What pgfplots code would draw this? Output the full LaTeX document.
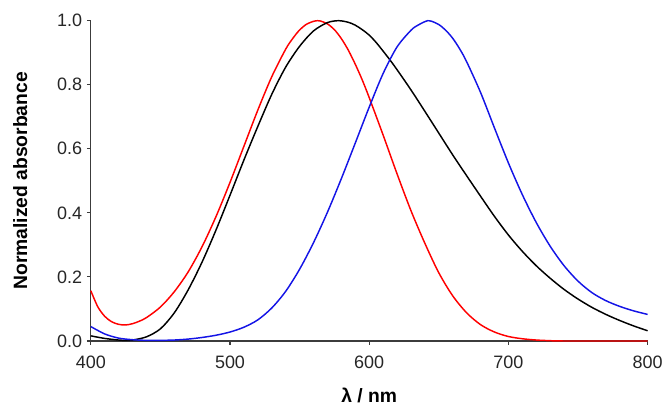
\documentclass[border=0pt]{standalone}
\usepackage{pgfplots}
\pgfplotsset{compat=1.18}
\usepackage{pgfplotstable}
\usepackage{fontspec}
\setmainfont{Liberation Sans}

\definecolor{specred}{RGB}{255,0,0}
\definecolor{specblue}{RGB}{20,20,230}
\definecolor{axisgray}{RGB}{60,60,60}

% red spectrum
\pgfplotstableread{
lam A
400 0.157
405 0.107
410 0.077
415 0.060
420 0.052
425 0.050
430 0.054
435 0.062
440 0.073
450 0.106
460 0.154
470 0.216
480 0.295
490 0.389
500 0.495
510 0.608
520 0.721
530 0.825
540 0.911
545 0.944
550 0.971
555 0.989
560 0.998
563 1.000
565 0.999
570 0.990
575 0.972
580 0.944
585 0.908
590 0.864
595 0.815
600 0.760
610 0.643
620 0.522
630 0.407
640 0.305
650 0.213
660 0.141
670 0.088
680 0.051
690 0.028
700 0.014
710 0.007
720 0.003
730 0.001
740 0.000
800 0.000
}\redtab

% black spectrum
\pgfplotstableread{
lam A
400 0.016
410 0.008
420 0.003
425 0.002
430 0.003
440 0.013
450 0.038
460 0.088
470 0.160
480 0.247
490 0.347
500 0.455
510 0.565
520 0.670
530 0.770
540 0.855
550 0.920
560 0.968
570 0.994
578 1.000
585 0.995
590 0.986
595 0.972
600 0.955
605 0.932
610 0.905
615 0.877
620 0.847
630 0.784
640 0.717
650 0.649
660 0.581
670 0.516
680 0.452
690 0.389
700 0.331
710 0.280
720 0.235
730 0.196
740 0.161
750 0.131
760 0.105
770 0.083
780 0.064
790 0.047
800 0.032
}\blacktab

% blue spectrum
\pgfplotstableread{
lam A
400 0.045
410 0.022
420 0.009
430 0.004
440 0.002
450 0.002
460 0.003
470 0.006
480 0.011
490 0.018
500 0.028
510 0.043
520 0.066
530 0.103
540 0.155
550 0.224
560 0.307
570 0.402
580 0.507
590 0.618
600 0.730
610 0.835
620 0.918
630 0.970
635 0.986
640 0.997
642 1.000
645 0.998
650 0.988
655 0.970
660 0.945
665 0.912
670 0.872
680 0.776
690 0.665
700 0.556
710 0.457
720 0.370
730 0.296
740 0.235
750 0.187
760 0.151
770 0.126
780 0.108
790 0.094
800 0.083
}\bluetab

\begin{document}
\begin{tikzpicture}
\begin{axis}[
  scale only axis,
  width=418.5pt, height=240.75pt,
  xmin=400, xmax=800, ymin=0, ymax=1,
  axis x line=bottom, axis y line=left,
  axis line style={-, axisgray, line width=1pt},
  tick align=outside,
  major tick length=3pt,
  tick style={axisgray, line width=0.8pt},
  xtick={400,500,600,700,800},
  ytick={0,0.2,0.4,0.6,0.8,1.0},
  yticklabel style={/pgf/number format/fixed, /pgf/number format/fixed zerofill, /pgf/number format/precision=1},
  /pgf/number format/assume math mode=true,
  ticklabel style={font=\fontsize{13.5}{15}\selectfont, text=black!85},
  xticklabel style={yshift=-5pt},
  xlabel={\textbf{λ / nm}},
  ylabel={\textbf{Normalized absorbance}},
  label style={font=\fontsize{14.5}{16}\selectfont\bfseries},
  xlabel style={at={([yshift=-46pt]axis description cs:0.5,0)}, anchor=base},
  ylabel style={at={([xshift=-53pt]axis description cs:0,0.5)}, anchor=center},
  clip=false,
]
\addplot[specred, line width=1.1pt, smooth, no marks] table[x=lam, y=A] {\redtab};
\addplot[black, line width=1.1pt, smooth, no marks] table[x=lam, y=A] {\blacktab};
\addplot[specblue, line width=1.1pt, smooth, no marks] table[x=lam, y=A] {\bluetab};
\path[use as bounding box] (rel axis cs:0,0) ++(-68.25pt,-45.2pt) rectangle ++(500pt,301.5pt);
\end{axis}
\end{tikzpicture}
\end{document}
